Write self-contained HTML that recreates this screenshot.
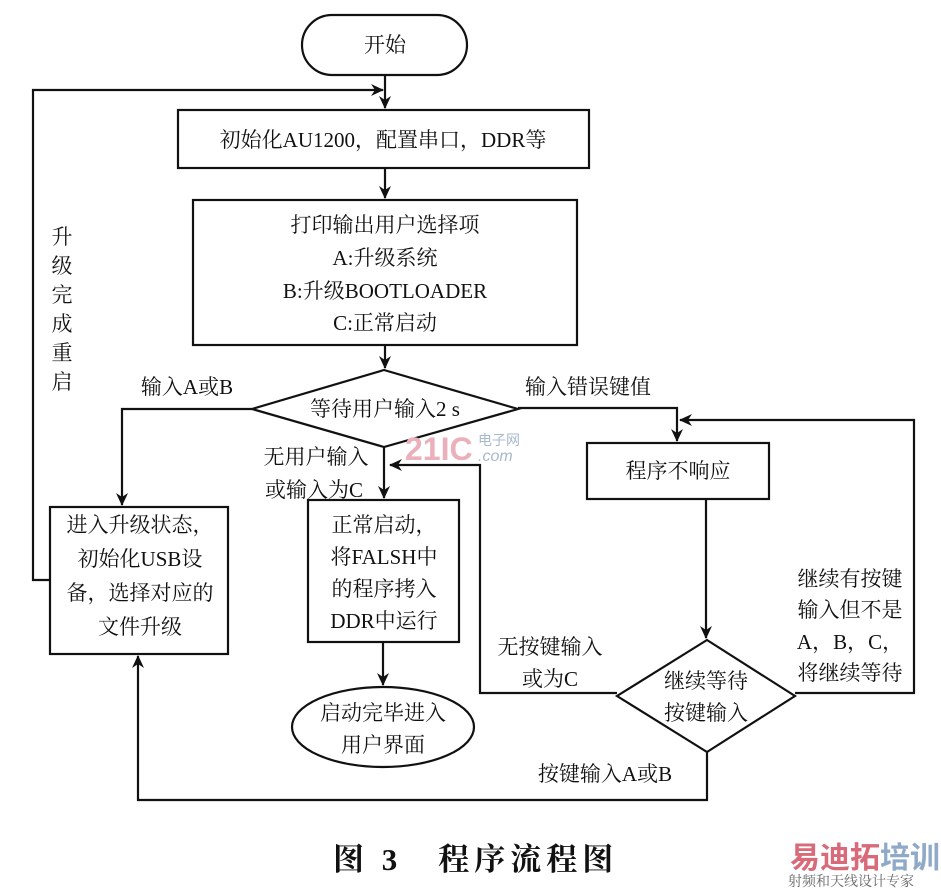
<!DOCTYPE html>
<html><head><meta charset="utf-8"><style>
html,body{margin:0;padding:0;background:#fff;}
svg{display:block;}
text{font-family:"Liberation Serif","Noto Serif CJK SC",serif;fill:#111;font-size:21px;}
</style></head><body>
<svg width="941" height="891" viewBox="0 0 941 891" xmlns="http://www.w3.org/2000/svg">
<defs><marker id="a" markerWidth="14" markerHeight="14" refX="12" refY="7" orient="auto" markerUnits="userSpaceOnUse"><path d="M0,1 L13,7 L0,13 L4,7 Z" fill="#111"/></marker></defs>
<g stroke="#111" stroke-width="2.2" fill="none">
<rect x="302" y="15" width="165" height="60" rx="30"/>
<line x1="385" y1="75" x2="385" y2="108" marker-end="url(#a)"/>
<rect x="178" y="110" width="411" height="58"/>
<line x1="385" y1="168" x2="385" y2="198" marker-end="url(#a)"/>
<rect x="193" y="200" width="384" height="145"/>
<line x1="385" y1="345" x2="385" y2="368" marker-end="url(#a)"/>
<polygon points="384,370 518,409 384,447 252,409"/>
<polyline points="252,409 122,409 122,505" marker-end="url(#a)"/>
<polyline points="518,408 677,408 677,441" marker-end="url(#a)"/>
<line x1="384" y1="447" x2="384" y2="498" marker-end="url(#a)"/>
<rect x="50" y="507" width="178" height="147"/>
<polyline points="50,580 33,580 33,90 383,90" marker-end="url(#a)"/>
<rect x="308" y="500" width="151" height="142"/>
<line x1="383" y1="642" x2="383" y2="685" marker-end="url(#a)"/>
<ellipse cx="383" cy="727" rx="91" ry="40"/>
<rect x="587" y="443" width="182" height="56"/>
<line x1="706" y1="499" x2="706" y2="638" marker-end="url(#a)"/>
<polygon points="707,640 795,696 707,752 617,696"/>
<polyline points="617,693 480,693 480,465 390,465" marker-end="url(#a)"/>
<polyline points="795,693 914,693 914,420 680,420" marker-end="url(#a)"/>
<polyline points="707,752 707,800 138,800 138,656" marker-end="url(#a)"/>
</g>
<text x="385" y="52" text-anchor="middle">开始</text>
<text x="383" y="147" text-anchor="middle">初始化AU1200，配置串口，DDR等</text>
<text x="385" y="232" text-anchor="middle">打印输出用户选择项</text>
<text x="385" y="265" text-anchor="middle">A:升级系统</text>
<text x="385" y="298" text-anchor="middle">B:升级BOOTLOADER</text>
<text x="385" y="330" text-anchor="middle">C:正常启动</text>
<text x="385" y="416" text-anchor="middle">等待用户输入2 s</text>
<text x="187" y="394" text-anchor="middle">输入A或B</text>
<text x="588" y="394" text-anchor="middle">输入错误键值</text>
<text x="316" y="464" text-anchor="middle">无用户输入</text>
<text x="314" y="497" text-anchor="middle">或输入为C</text>
<text x="140" y="532" text-anchor="middle">进入升级状态，</text>
<text x="140" y="566" text-anchor="middle">初始化USB设</text>
<text x="140" y="600" text-anchor="middle">备，选择对应的</text>
<text x="140" y="634" text-anchor="middle">文件升级</text>
<g text-anchor="middle"><text x="62" y="244">升</text><text x="62" y="273">级</text><text x="62" y="302">完</text><text x="62" y="331">成</text><text x="62" y="360">重</text><text x="62" y="389">启</text></g>
<text x="384" y="532" text-anchor="middle">正常启动，</text>
<text x="384" y="564" text-anchor="middle">将FALSH中</text>
<text x="384" y="596" text-anchor="middle">的程序拷入</text>
<text x="384" y="628" text-anchor="middle">DDR中运行</text>
<text x="383" y="720" text-anchor="middle">启动完毕进入</text>
<text x="383" y="752" text-anchor="middle">用户界面</text>
<text x="678" y="478" text-anchor="middle">程序不响应</text>
<text x="706" y="688" text-anchor="middle">继续等待</text>
<text x="706" y="720" text-anchor="middle">按键输入</text>
<text x="550" y="654" text-anchor="middle">无按键输入</text>
<text x="550" y="686" text-anchor="middle">或为C</text>
<text x="850" y="586" text-anchor="middle">继续有按键</text>
<text x="850" y="617" text-anchor="middle">输入但不是</text>
<text x="850" y="649" text-anchor="middle">A，B，C，</text>
<text x="850" y="680" text-anchor="middle">将继续等待</text>
<text x="605" y="781" text-anchor="middle">按键输入A或B</text>
<text x="333" y="870" style="font-size:31px;font-weight:bold;letter-spacing:5px;">图 3　程序流程图</text>
<text x="405" y="460" style="font-size:32px;font-weight:bold;fill:#eab0bb;font-family:'Liberation Sans',sans-serif;">21IC</text>
<text x="478" y="445" style="font-size:14px;fill:#a9b8cc;font-family:'Liberation Sans','Noto Sans CJK SC',sans-serif;">电子网</text>
<text x="478" y="461" style="font-size:16px;fill:#a9b8cc;font-style:italic;font-family:'Liberation Sans',sans-serif;">.com</text>
<text x="790" y="868" style="font-size:30px;font-weight:bold;fill:#d86a7a;font-family:'Liberation Sans','Noto Sans CJK SC',sans-serif;">易迪拓<tspan fill="#8fa9c8">培训</tspan></text>
<text x="788" y="886" style="font-size:14px;fill:#666;">射频和天线设计专家</text>
</svg>
</body></html>
